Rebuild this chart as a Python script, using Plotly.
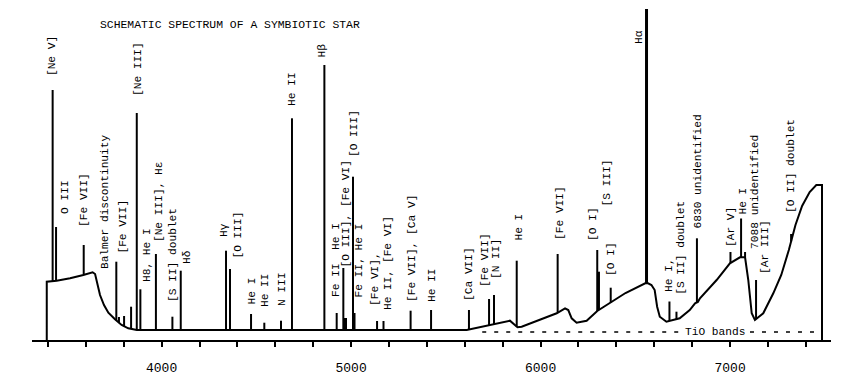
import numpy as np
import plotly.graph_objects as go

# ---------------- data ----------------
title_text = "SCHEMATIC SPECTRUM OF A SYMBIOTIC STAR"

# continuum (wavelength in Angstrom, relative flux)
cont_wavelength = [3394, 3394, 3446, 3517, 3587, 3636, 3649, 3661, 3675, 3696, 3719, 3754,
                   3789, 3824, 3869, 5610, 5838, 5878, 5900, 6085, 6129, 6146, 6164, 6190,
                   6243, 6299, 6448, 6552, 6567, 6585, 6602, 6615, 6629, 6664, 6734, 6787,
                   6815, 6830, 6841, 6929, 6999, 7052, 7079, 7096, 7105, 7114, 7131, 7175,
                   7228, 7270, 7310, 7345, 7380, 7420, 7455, 7485, 7485]
cont_flux = [-10, 48.3, 49.3, 51.7, 55, 57.7, 56, 46.7, 35, 25, 17.3, 10.7,
             5, 1.7, 0, 0, 9.3, 2.7, 3.3, 16.7, 21.7, 20, 11.7, 7.3,
             9.3, 19, 37, 46.7, 46.7, 45, 40, 23.3, 13.3, 8.3, 11.7, 20,
             26.7, 28, 31.7, 50, 66.7, 72.7, 72.7, 50, 30, 16.7, 10, 16.7,
             36.7, 55, 80, 105, 124, 138, 145, 145, -10]

# emission lines: wavelength and peak flux
line_wavelength = [3425, 3443, 3589, 3761, 3775, 3802, 3839, 3869, 3888, 3970, 4057, 4101,
                   4340, 4361, 4472, 4542, 4630, 4688, 4859, 4924, 4959, 4966, 4973, 5010,
                   5018, 5137, 5171, 5314, 5422, 5622, 5728, 5754, 5874, 6090, 6299, 6308,
                   6370, 6680, 6717, 6825, 7002, 7058, 7079, 7137, 7322]
line_peak = [240, 103, 85, 68.3, 13, 14, 23.3, 217, 40.7, 76, 13.3, 59.3,
             79.3, 61, 16, 7.3, 9.3, 211.7, 265, 17, 62, 12, 12, 153.3,
             17, 9, 9, 19.3, 20, 20, 31, 35, 69.3, 76, 80, 58.3,
             42.3, 28.5, 18.3, 91.7, 78, 111.5, 78, 50, 96]

halpha_wavelength = [6559]
halpha_peak = [321]

tio_range = [5692, 7449]
tio_gap = [6736, 7105]
tio_text = "TiO bands"

tick_values = list(range(3400, 7401, 200))
tick_labels = [str(v) if v % 1000 == 0 else "" for v in tick_values]

# label texts
label_text = ["[Ne V]", "O III", "[Fe VII]", "Balmer discontinuity", "[Fe VII]", "[Ne III]",
              "H8, He I", "[Ne III], Hε", "[S II] doublet", "Hδ", "Hγ", "[O III]",
              "He I", "He II", "N III", "He II", "Hβ", "[O III]", "Fe II  He I",
              "[O III], [Fe VI]", "Fe II, He I", "[Fe VI],", "He II, [Fe VI]",
              "[Fe VII], [Ca V]", "He II", "[Ca VII]", "[Fe VII]", "[N II]", "He I",
              "[Fe VII]", "[O I]", "[S III]", "[O I]", "Hα", "He I,", "[S II] doublet",
              "6830 unidentified", "[Ar V]", "He I", "7088 unidentified", "[Ar III]",
              "[O II] doublet"]

# ---------------- layout placement of the labels ----------------
label_x = [3422, 3490, 3590, 3699, 3794, 3875, 3923, 3984, 4060, 4134, 4329, 4398,
           4477, 4546, 4635, 4688, 4849, 5013, 4920, 4973, 5044, 5126, 5195,
           5319, 5427, 5622, 5707, 5765, 5881, 6102, 6276, 6350, 6371, 6519, 6677, 6740,
           6828, 7005, 7063, 7131, 7184, 7321]
label_bottom = [253, 115, 102, 60, 75, 233, 47, 87, 27, 65, 92, 70,
                25, 22, 23, 223, 272, 172, 32, 62, 32, 23, 19,
                27, 27, 28, 42, 50, 88, 89, 88, 123, 53, 285, 37, 34,
                100, 82, 114, 80, 55, 116]

FONT = "Liberation Mono"

# ---------------- build figure ----------------
fig = go.Figure()

fig.add_trace(go.Scatter(x=cont_wavelength, y=cont_flux, mode="lines",
                         line=dict(color="black", width=2), hoverinfo="skip"))

bases = np.interp(line_wavelength, cont_wavelength[1:-1], cont_flux[1:-1])
lx, ly = [], []
for w, b, p in zip(line_wavelength, bases, line_peak):
    lx += [w, w, None]
    ly += [b, p, None]
fig.add_trace(go.Scatter(x=lx, y=ly, mode="lines",
                         line=dict(color="black", width=2), hoverinfo="skip"))

ha_base = np.interp(halpha_wavelength, cont_wavelength[1:-1], cont_flux[1:-1])
hx, hy = [], []
for w, b, p in zip(halpha_wavelength, ha_base, halpha_peak):
    hx += [w, w, None]
    hy += [b, p, None]
fig.add_trace(go.Scatter(x=hx, y=hy, mode="lines",
                         line=dict(color="black", width=3), hoverinfo="skip"))

fig.add_trace(go.Scatter(x=[tio_range[0], tio_gap[0], None, tio_gap[1], tio_range[1]],
                         y=[-2, -2, None, -2, -2], mode="lines",
                         line=dict(color="black", width=1.3, dash="4px,8px"),
                         hoverinfo="skip"))

annotations = []
for t, x, y in zip(label_text, label_x, label_bottom):
    annotations.append(dict(x=x, y=y, xref="x", yref="y", text=t, showarrow=False,
                            textangle=-90, xanchor="center", yanchor="bottom",
                            borderpad=0,
                            font=dict(family=FONT, size=11.2, color="black")))
annotations.append(dict(x=(tio_gap[0] + tio_gap[1]) / 2, y=-2, xref="x", yref="y",
                        text=tio_text, showarrow=False, xanchor="center",
                        yanchor="middle", borderpad=0,
                        font=dict(family=FONT, size=11.2, color="black")))
annotations.append(dict(x=3664, y=305, xref="x", yref="y", text=title_text,
                        showarrow=False, xanchor="left", yanchor="middle",
                        font=dict(family=FONT, size=11.4, color="black")))

fig.update_layout(
    width=866, height=381,
    margin=dict(l=32, r=35, t=0, b=41),
    paper_bgcolor="white", plot_bgcolor="white",
    showlegend=False,
    annotations=annotations,
    xaxis=dict(range=[3316.1, 7532.5], showline=True, linewidth=2, linecolor="black",
               ticks="outside", ticklen=5, tickwidth=1.5, tickcolor="black",
               tickvals=tick_values, ticktext=tick_labels, showgrid=False,
               zeroline=False, ticklabelstandoff=9,
               tickfont=dict(family=FONT, size=13, color="black")),
    yaxis=dict(range=[-10, 330], visible=False, showgrid=False, zeroline=False),
)

fig.write_html("out.html",
               config={"displayModeBar": False},
               post_script="document.body.style.margin='0';"
                           "document.body.style.overflow='hidden';")
